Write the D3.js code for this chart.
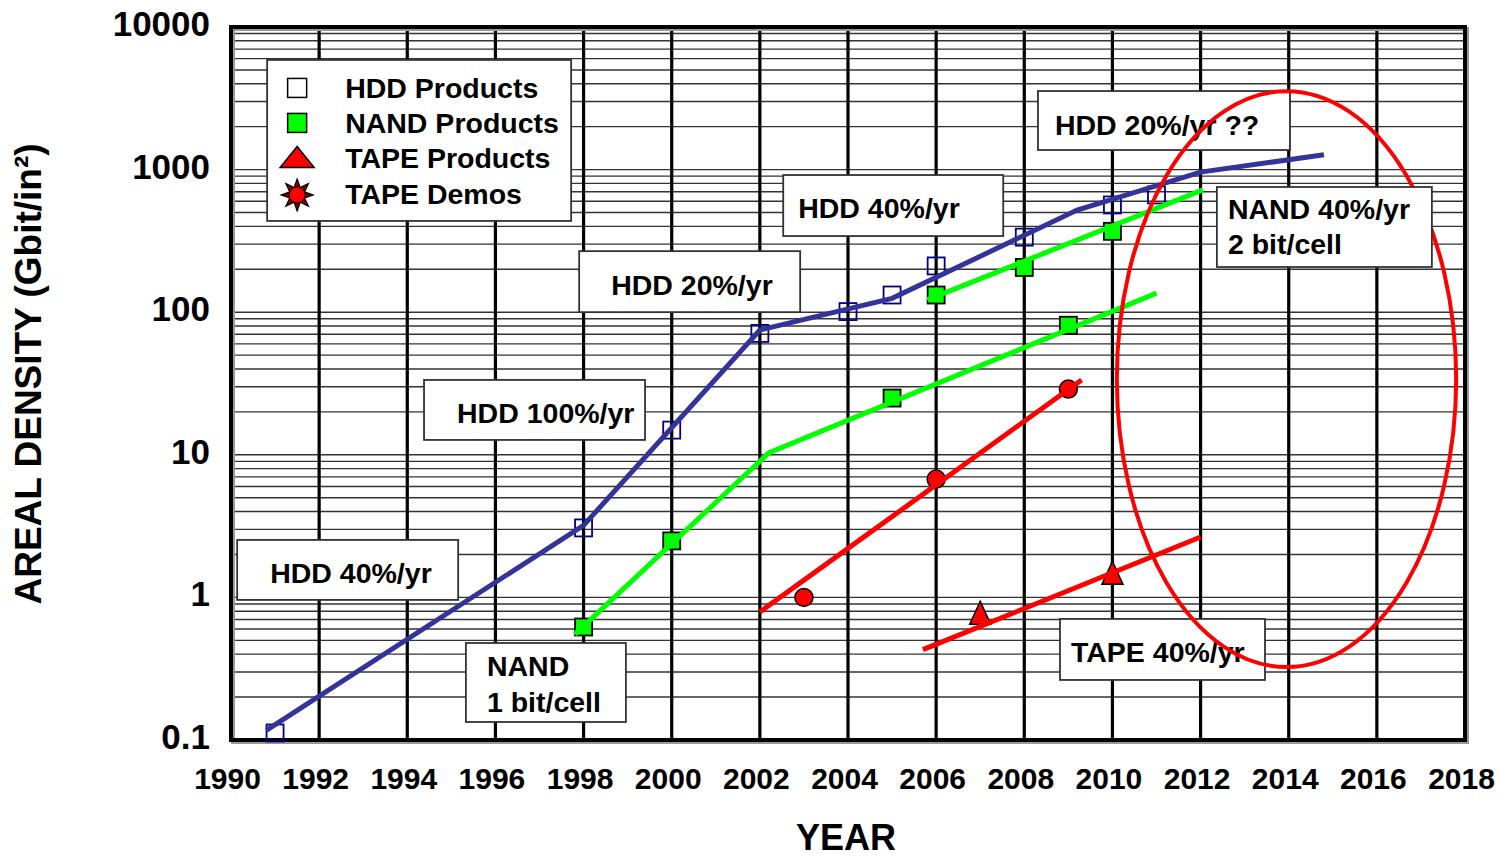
<!DOCTYPE html>
<html>
<head>
<meta charset="utf-8">
<script src="https://cdn.jsdelivr.net/npm/d3@7/dist/d3.min.js"></script>
<style>
  html, body { margin: 0; padding: 0; background: #fff; }
  svg { display: block; font-family: "Liberation Sans", Arial, sans-serif; font-weight: bold; }
</style>
</head>
<body>
<svg id="chart" width="1498" height="858"></svg>
<script>
// ---- data ----
const xTickYears = [1990, 1992, 1994, 1996, 1998, 2000, 2002, 2004, 2006, 2008, 2010, 2012, 2014, 2016, 2018];
const yTickValues = [0.1, 1, 10, 100, 1000, 10000];
const yTickLabels = ["0.1", "1", "10", "100", "1000", "10000"];

// HDD products
const hddYears = [1991, 1998, 2000, 2002, 2004, 2005, 2006, 2008, 2010, 2011];
const hddDensity = [0.112, 3.07, 14.9, 71, 101, 132, 211, 336, 565, 664];
// NAND products
const nandYears = [1998, 2000, 2005, 2006, 2008, 2009, 2010];
const nandDensity = [0.62, 2.49, 25, 132, 206, 81, 369];
// Tape products
const tapeYears = [2007, 2010];
const tapeDensity = [0.78, 1.49];
// Tape demos
const demoYears = [2003, 2006, 2009];
const demoDensity = [1.0, 6.76, 28.9];

// Trend lines
const hddTrendYears = [1990.8, 1998, 2002, 2005, 2009.2, 2012, 2014.8];
const hddTrendValues = [0.117, 3.2, 75, 125, 520, 960, 1270];
const nand1TrendYears = [1997.8, 2002.2, 2011];
const nand1TrendValues = [0.55, 10.3, 136];
const nand2TrendYears = [2005.8, 2012.05];
const nand2TrendValues = [122, 720];
const demoTrendYears = [2002, 2009.3];
const demoTrendValues = [0.79, 33.5];
const tapeTrendYears = [2005.7, 2012];
const tapeTrendValues = [0.43, 2.65];

const legendLabels = ["HDD Products", "NAND Products", "TAPE Products", "TAPE Demos"];

// Text callouts: anchor (top-left corner) in data units
const callouts = [
  { lines: ["HDD 40%/yr"], year: 1990.14, value: 2.53, w: 221, h: 60, dx: 33, dy: [43] },
  { lines: ["NAND", "1 bit/cell"], year: 1995.33, value: 0.479, w: 160, h: 79, dx: 21, dy: [33, 69] },
  { lines: ["HDD 100%/yr"], year: 1994.38, value: 33.5, w: 221, h: 60, dx: 33, dy: [43] },
  { lines: ["HDD 20%/yr"], year: 1997.9, value: 268, w: 221, h: 61, dx: 32, dy: [44] },
  { lines: ["HDD 40%/yr"], year: 2002.53, value: 916, w: 220, h: 61, dx: 15, dy: [43] },
  { lines: ["HDD 20%/yr ??"], year: 2008.31, value: 3556, w: 252, h: 59, dx: 17, dy: [44] },
  { lines: ["TAPE 40%/yr"], year: 2008.81, value: 0.706, w: 205, h: 61, dx: 11, dy: [43] }
];
const topCallout = { lines: ["NAND 40%/yr", "2 bit/cell"], year: 2012.37, value: 755, w: 215, h: 80, dx: 11, dy: [32, 67] };

// Highlight ellipse extent in data units
const ellipseYears = [2010.1, 2017.8];
const ellipseValues = [0.325, 3550];

// ---- scales ----
const svg = d3.select("#chart");
const x = d3.scaleLinear().domain([1990, 2018]).range([231, 1465]);
const y = d3.scaleLog().domain([0.1, 10000]).range([740, 27]);

// ---- grid ----
const minorValues = [];
[0.1, 1, 10, 100, 1000].forEach(d => {
  for (let k = 1; k <= 9; k++) if (!(d === 0.1 && k === 1)) minorValues.push(d * k);
});
svg.append("g").selectAll("line").data(minorValues).join("line")
  .attr("x1", x(1990)).attr("x2", x(2018))
  .attr("y1", d => y(d)).attr("y2", d => y(d))
  .attr("stroke", "#333").attr("stroke-width", 1.4);

svg.append("g").selectAll("line").data(xTickYears.slice(1, -1)).join("line")
  .attr("x1", d => x(d)).attr("x2", d => x(d))
  .attr("y1", y(10000)).attr("y2", y(0.1))
  .attr("stroke", "#000").attr("stroke-width", 3.2);

// frame with a soft shadow
svg.append("rect")
  .attr("x", x(1990) + 2).attr("y", y(10000) + 2)
  .attr("width", x(2018) - x(1990)).attr("height", y(0.1) - y(10000))
  .attr("fill", "none").attr("stroke", "#999").attr("stroke-width", 4);
svg.append("rect")
  .attr("x", x(1990)).attr("y", y(10000))
  .attr("width", x(2018) - x(1990)).attr("height", y(0.1) - y(10000))
  .attr("fill", "none").attr("stroke", "#000").attr("stroke-width", 4);

// ---- axes ----
const yAxis = d3.axisLeft(y).tickValues(yTickValues)
  .tickFormat((d, i) => yTickLabels[i]).tickSize(0).tickPadding(21);
const gy = svg.append("g").attr("transform", `translate(${x(1990)},0)`).call(yAxis);
gy.select(".domain").remove();
gy.selectAll("text").attr("font-size", 35).attr("font-weight", "bold")
  .attr("font-family", '"Liberation Sans", Arial, sans-serif').attr("fill", "#000")
  .attr("dy", "0.24em");

const xAxis = d3.axisBottom(x).tickValues(xTickYears).tickFormat(d3.format("d"))
  .tickSize(0).tickPadding(28);
const gx = svg.append("g").attr("transform", `translate(0,${y(0.1)})`).call(xAxis);
gx.select(".domain").remove();
gx.selectAll("text").attr("font-size", 30).attr("font-weight", "bold")
  .attr("font-family", '"Liberation Sans", Arial, sans-serif').attr("fill", "#000")
  .attr("dx", -4);

svg.append("text").attr("x", 846).attr("y", 850).attr("text-anchor", "middle")
  .attr("font-size", 36).text("YEAR");
svg.append("text")
  .attr("transform", "translate(41,374) rotate(-90)")
  .attr("text-anchor", "middle").attr("font-size", 37)
  .text("AREAL DENSITY (Gbit/in²)");

// ---- marker helpers ----
function squareMarker(g, cx, cy, s, fill, stroke, sw) {
  g.append("rect").attr("x", cx - s / 2).attr("y", cy - s / 2)
    .attr("width", s).attr("height", s)
    .attr("fill", fill).attr("stroke", stroke).attr("stroke-width", sw);
}
function triangleMarker(g, cx, cy, w, h) {
  g.append("path")
    .attr("d", `M${cx},${cy - h / 2}L${cx + w / 2},${cy + h / 2}L${cx - w / 2},${cy + h / 2}Z`)
    .attr("fill", "#ff0000").attr("stroke", "#000").attr("stroke-width", 1.5);
}
function circleMarker(g, cx, cy, r) {
  g.append("circle").attr("cx", cx).attr("cy", cy).attr("r", r)
    .attr("fill", "#ff0000").attr("stroke", "#000").attr("stroke-width", 1.5);
}
function sunMarker(g, cx, cy) {
  const pts = [];
  for (let i = 0; i < 16; i++) {
    const a = i * Math.PI / 8 - Math.PI / 2;
    const r = i % 2 === 0 ? 16 : 8;
    pts.push([cx + r * Math.cos(a), cy + r * Math.sin(a)]);
  }
  g.append("path").attr("d", "M" + pts.join("L") + "Z")
    .attr("fill", "#800000").attr("stroke", "#000").attr("stroke-width", 1.2);
  g.append("circle").attr("cx", cx).attr("cy", cy).attr("r", 8)
    .attr("fill", "#ff0000").attr("stroke", "#000").attr("stroke-width", 1);
}

// ---- markers ----
const gm = svg.append("g");
hddYears.forEach((yr, i) => squareMarker(gm, x(yr), y(hddDensity[i]), 17, "none", "#000080", 1.8));
nandYears.forEach((yr, i) => squareMarker(gm, x(yr), y(nandDensity[i]), 17, "#00ff00", "#000", 1.8));
tapeYears.forEach((yr, i) => triangleMarker(gm, x(yr), y(tapeDensity[i]), 21, 23));
demoYears.forEach((yr, i) => circleMarker(gm, x(yr), y(demoDensity[i]), 9));

// ---- trend lines ----
const lineGen = d3.line().x(d => x(d[0])).y(d => y(d[1]));
const trends = [
  { years: hddTrendYears, values: hddTrendValues, color: "#333399" },
  { years: nand1TrendYears, values: nand1TrendValues, color: "#00ff00" },
  { years: nand2TrendYears, values: nand2TrendValues, color: "#00ff00" },
  { years: demoTrendYears, values: demoTrendValues, color: "#ff0000" },
  { years: tapeTrendYears, values: tapeTrendValues, color: "#ff0000" }
];
svg.append("g").selectAll("path").data(trends).join("path")
  .attr("d", t => lineGen(t.years.map((yr, i) => [yr, t.values[i]])))
  .attr("fill", "none").attr("stroke", t => t.color).attr("stroke-width", 5);

// ---- legend ----
const lg = svg.append("g");
const lx = x(1990.82), ly = y(5876);
lg.append("rect").attr("x", lx).attr("y", ly).attr("width", 304).attr("height", 161)
  .attr("fill", "#fff").attr("stroke", "#333").attr("stroke-width", 1.8);
const symX = lx + 30;
const rowBase = [38, 73, 108, 144];
squareMarker(lg, symX, ly + 28, 19, "#fff", "#000", 1.5);
squareMarker(lg, symX, ly + 63, 19, "#00ff00", "#000", 1.5);
triangleMarker(lg, symX, ly + 97, 34, 21);
sunMarker(lg, symX, ly + 135);
lg.selectAll("text.leg").data(legendLabels).join("text").attr("class", "leg")
  .attr("x", lx + 78).attr("y", (d, i) => ly + rowBase[i])
  .attr("font-size", 28.5).text(d => d);

// ---- callouts ----
function drawCallout(c) {
  const g = svg.append("g");
  const bx = x(c.year), by = y(c.value);
  g.append("rect").attr("x", bx).attr("y", by).attr("width", c.w).attr("height", c.h)
    .attr("fill", "#fff").attr("stroke", "#333").attr("stroke-width", 1.8);
  c.lines.forEach((t, i) => {
    g.append("text").attr("x", bx + c.dx).attr("y", by + c.dy[i])
      .attr("font-size", 28.5).text(t);
  });
}
callouts.forEach(drawCallout);

// ---- highlight ellipse ----
svg.append("ellipse")
  .attr("cx", (x(ellipseYears[0]) + x(ellipseYears[1])) / 2)
  .attr("cy", (y(ellipseValues[0]) + y(ellipseValues[1])) / 2)
  .attr("rx", (x(ellipseYears[1]) - x(ellipseYears[0])) / 2)
  .attr("ry", (y(ellipseValues[0]) - y(ellipseValues[1])) / 2)
  .attr("fill", "none").attr("stroke", "#ff0000").attr("stroke-width", 4);

drawCallout(topCallout);
</script>
</body>
</html>
